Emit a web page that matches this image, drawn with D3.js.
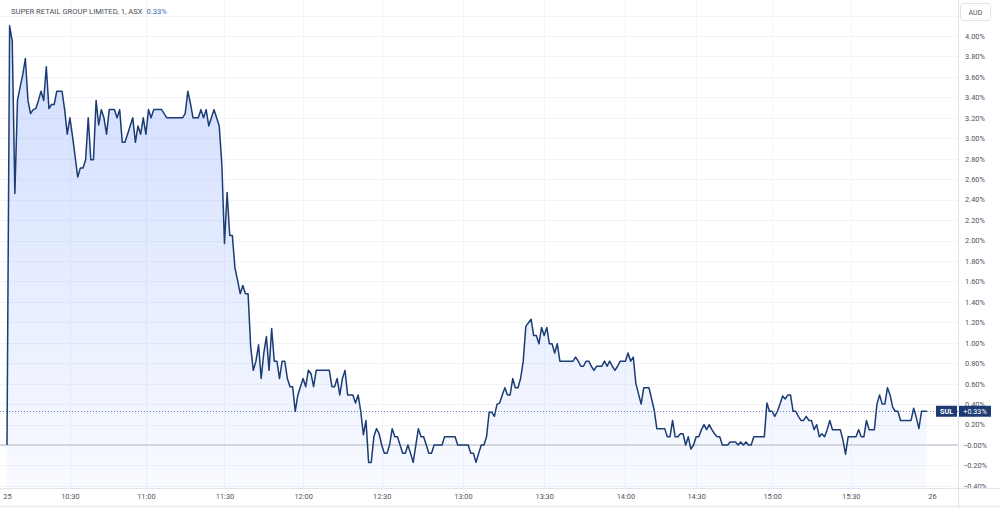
<!DOCTYPE html>
<html>
<head>
<meta charset="utf-8">
<script src="https://cdn.jsdelivr.net/npm/d3@7"></script>
<style>
	html, body { margin: 0; padding: 0; background: #fff; }
	svg { display: block; font-family: Roboto, "Liberation Sans", sans-serif; }
</style>
</head>
<body>
<div id="chart"></div>
<script>

// bar number within the session (1 minute bars) and % change vs previous close
var barIdx = [0,1,2,3,4,5,6,7,8,9,10,11,12,13,14,15,16,17,18,19,20,21,22,23,24,25,27,28,29,30,
	31,32,33,34,35,36,37,38,39,40,41,42,43,44,45,46,47,48,49,50,51,52,53,54,55,56,57,58,59,61,
	67,68,69,70,71,73,74,75,76,77,78,79,80,81,82,83,84,85,86,87,88,89,90,91,92,93,94,95,96,97,
	98,99,100,101,102,103,104,105,106,107,108,109,110,111,112,113,114,115,116,117,118,123,124,125,126,127,128,129,130,132,
	133,134,135,136,137,138,139,140,141,142,143,144,145,146,147,148,149,150,151,152,153,154,155,157,158,159,160,161,162,163,
	166,167,171,172,176,177,178,179,180,181,182,183,184,185,186,187,188,189,190,191,192,193,194,195,196,197,198,200,201,202,
	203,204,205,206,207,208,209,210,211,216,217,218,219,220,221,222,223,224,225,227,228,229,230,231,232,233,234,236,237,238,
	239,240,242,243,245,247,248,251,252,253,254,255,256,257,258,259,260,261,262,263,264,265,266,267,268,269,270,271,272,273,
	275,276,278,279,280,281,282,283,284,285,289,290,291,292,293,294,295,296,297,298,299,300,301,302,303,304,305,306,307,308,
	309,310,311,312,313,314,315,318,319,320,321,324,325,326,327,328,329,331,332,333,334,335,336,337,338,339,340,341,345,346,
	347,348,349,351];

var pctChange = [0.00,4.10,3.95,2.46,3.37,3.50,3.62,3.78,3.37,3.24,3.28,3.29,3.37,3.46,3.37,3.70,3.29,3.33,3.33,3.46,3.46,3.46,3.28,3.04,3.20,3.02,2.62,2.71,2.71,2.79,
	3.20,2.79,2.79,3.37,3.13,3.28,3.20,3.04,3.28,3.28,3.28,3.20,3.28,2.96,2.96,3.04,3.12,3.20,2.96,3.12,3.04,3.20,3.04,3.28,3.20,3.28,3.28,3.28,3.28,3.20,
	3.20,3.24,3.46,3.34,3.20,3.20,3.28,3.20,3.28,3.12,3.20,3.28,3.20,3.12,2.74,1.97,2.47,2.05,2.05,1.73,1.61,1.48,1.56,1.48,1.48,0.96,0.73,0.82,0.98,0.65,
	0.90,1.06,0.73,1.14,0.82,0.82,0.65,0.82,0.82,0.65,0.57,0.57,0.33,0.49,0.57,0.65,0.57,0.73,0.70,0.57,0.73,0.73,0.57,0.57,0.65,0.49,0.65,0.73,0.49,0.49,
	0.41,0.49,0.33,0.10,0.24,-0.17,-0.17,0.08,0.16,0.11,0.00,-0.08,-0.08,0.00,0.16,0.08,0.08,0.00,-0.08,-0.08,0.00,-0.08,-0.17,0.16,0.08,0.08,0.00,-0.08,-0.08,0.00,
	0.00,0.08,0.08,0.00,0.00,-0.08,-0.08,-0.17,-0.08,0.00,0.00,0.08,0.32,0.32,0.28,0.40,0.41,0.49,0.56,0.49,0.49,0.65,0.56,0.56,0.65,0.82,1.16,1.23,1.07,1.07,
	0.99,1.15,1.07,1.15,0.99,0.99,0.90,0.99,0.82,0.82,0.86,0.82,0.77,0.77,0.82,0.82,0.77,0.73,0.77,0.77,0.82,0.77,0.82,0.77,0.73,0.77,0.82,0.82,0.90,0.82,
	0.86,0.60,0.40,0.56,0.56,0.34,0.16,0.16,0.08,0.08,0.24,0.08,0.08,0.11,0.11,0.00,0.08,-0.04,0.00,0.08,0.08,0.15,0.20,0.15,0.20,0.15,0.11,0.08,0.08,0.00,
	0.00,0.03,0.03,0.00,0.03,0.00,0.03,0.00,0.00,0.08,0.08,0.41,0.33,0.33,0.28,0.33,0.40,0.48,0.45,0.49,0.49,0.33,0.33,0.28,0.24,0.24,0.28,0.24,0.24,0.15,
	0.20,0.08,0.11,0.08,0.15,0.24,0.15,0.15,0.05,-0.09,0.08,0.08,0.15,0.08,0.08,0.24,0.15,0.15,0.40,0.49,0.40,0.40,0.56,0.49,0.37,0.33,0.33,0.24,0.24,0.36,
	0.27,0.16,0.33,0.33];

// time axis labels and the bar they sit on
var tickBars = [0, 24, 53, 83, 113, 143, 174, 205, 236, 263, 292, 322, 353];
var tickLabels = ["25", "10:30", "11:00", "11:30", "12:00", "12:30", "13:00", "13:30", "14:00", "14:30", "15:00", "15:30", "26"];

// percent scale grid lines / labels
var gridPct = [-0.4, -0.2, 0, 0.2, 0.4, 0.6, 0.8, 1.0, 1.2, 1.4, 1.6, 1.8, 2.0, 2.2, 2.4, 2.6, 2.8, 3.0, 3.2, 3.4, 3.6, 3.8, 4.0, 4.2];
var labelPct = [-0.4, -0.2, 0, 0.2, 0.4, 0.6, 0.8, 1.0, 1.2, 1.4, 1.6, 1.8, 2.0, 2.2, 2.4, 2.6, 2.8, 3.0, 3.2, 3.4, 3.6, 3.8, 4.0];

var symbol = "SUL";
var title = "SUPER RETAIL GROUP LIMITED, 1, ASX";
var currency = "AUD";

var W = 1000, H = 508,
	paneRight = 958, paneBottom = 488;

var data = barIdx.map(function(b, i) { return { bar: b, v: pctChange[i] }; });
var last = data[data.length - 1].v;

var x = d3.scaleLinear().domain([0, 353]).range([7, 932]);
var y = d3.scaleLinear().domain([0, 4]).range([445, 36]);

var pctFmt = function(d) {
	var s = d3.format(".2f")(Math.abs(d)) + "%";
	return (d <= 0 ? "\u2212" : "") + s;
};

var svg = d3.select("#chart").append("svg")
	.attr("width", W)
	.attr("height", H);

var defs = svg.append("defs");

defs.append("clipPath").attr("id", "pane")
	.append("rect").attr("x", 0).attr("y", 0).attr("width", paneRight).attr("height", paneBottom);

var grad = defs.append("linearGradient")
	.attr("id", "areaFill")
	.attr("gradientUnits", "userSpaceOnUse")
	.attr("x1", 0).attr("x2", 0)
	.attr("y1", y(4.1)).attr("y2", paneBottom);
grad.append("stop").attr("offset", "0").attr("stop-color", "rgb(41,98,255)").attr("stop-opacity", 0.22);
grad.append("stop").attr("offset", "1").attr("stop-color", "rgb(41,98,255)").attr("stop-opacity", 0.03);

// grid
var grid = svg.append("g").attr("clip-path", "url(#pane)");
grid.selectAll(".hgrid")
	.data(gridPct)
	.enter().append("line")
	.attr("x1", 0).attr("x2", paneRight)
	.attr("y1", function(d) { return Math.round(y(d)) + 0.5; })
	.attr("y2", function(d) { return Math.round(y(d)) + 0.5; })
	.attr("stroke", "#f2f4f9");
grid.selectAll(".vgrid")
	.data(tickBars.slice(1, -1))
	.enter().append("line")
	.attr("y1", 0).attr("y2", paneBottom)
	.attr("x1", function(d) { return Math.round(x(d)) + 0.5; })
	.attr("x2", function(d) { return Math.round(x(d)) + 0.5; })
	.attr("stroke", "#f2f4f9");

// series
var plot = svg.append("g").attr("clip-path", "url(#pane)");

plot.append("path")
	.datum(data)
	.attr("fill", "url(#areaFill)")
	.attr("d", d3.area()
		.x(function(d) { return x(d.bar); })
		.y0(paneBottom)
		.y1(function(d) { return y(d.v); }));

// previous close (0%) line
plot.append("line")
	.attr("x1", 0).attr("x2", paneRight)
	.attr("y1", y(0)).attr("y2", y(0))
	.attr("stroke", "#c9ccd4")
	.attr("stroke-width", 1.5);

// last price line
plot.append("line")
	.attr("x1", 0).attr("x2", paneRight)
	.attr("y1", Math.round(y(last)) + 0.5).attr("y2", Math.round(y(last)) + 0.5)
	.attr("stroke", "#5f7fb8")
	.attr("stroke-dasharray", "1,2");

plot.append("path")
	.datum(data)
	.attr("fill", "none")
	.attr("stroke", "#1b3c74")
	.attr("stroke-width", 1.5)
	.attr("stroke-linejoin", "round")
	.attr("d", d3.line()
		.x(function(d) { return x(d.bar); })
		.y(function(d) { return y(d.v); }));

// legend / title
var legend = svg.append("text")
	.attr("x", 11).attr("y", 14)
	.attr("font-size", "7.6px");
legend.append("tspan").attr("fill", "#4c4f58").text(title);
legend.append("tspan").attr("fill", "#3d6db5").attr("dx", 4).text(d3.format(".2f")(last) + "%");

// right price axis
var yAxisG = svg.append("g")
	.attr("transform", "translate(" + paneRight + ",0)")
	.call(d3.axisRight(y).tickValues(labelPct).tickSize(0).tickFormat(pctFmt));
yAxisG.select(".domain").remove();
yAxisG.selectAll("text")
	.attr("x", 17)
	.attr("text-anchor", "middle")
	.attr("fill", "#50535e")
	.attr("font-family", "Roboto, sans-serif")
	.attr("font-size", "7.4px");

// bottom time axis panel
svg.append("rect")
	.attr("x", 0).attr("y", paneBottom)
	.attr("width", W).attr("height", H - paneBottom)
	.attr("fill", "#fff");
svg.append("rect")
	.attr("x", 0).attr("y", 505)
	.attr("width", W).attr("height", 3)
	.attr("fill", "#f3f4f6");

var xAxisG = svg.append("g")
	.attr("transform", "translate(0," + paneBottom + ")")
	.call(d3.axisBottom(x).tickValues(tickBars).tickSize(0).tickPadding(6)
		.tickFormat(function(d, i) { return tickLabels[i]; }));
xAxisG.select(".domain").remove();
xAxisG.selectAll("text")
	.attr("fill", "#50535e")
	.attr("font-family", "Roboto, sans-serif")
	.attr("font-size", "7.4px");

// panel borders
svg.append("line")
	.attr("x1", 0).attr("x2", W)
	.attr("y1", paneBottom + 0.5).attr("y2", paneBottom + 0.5)
	.attr("stroke", "#e0e3eb");
svg.append("line")
	.attr("x1", paneRight + 0.5).attr("x2", paneRight + 0.5)
	.attr("y1", 0).attr("y2", H)
	.attr("stroke", "#e0e3eb");

// currency button
svg.append("rect")
	.attr("x", 960.5).attr("y", 3.5)
	.attr("width", 30).attr("height", 17)
	.attr("rx", 3)
	.attr("fill", "#fff")
	.attr("stroke", "#e0e3eb");
svg.append("text")
	.attr("x", 975.5).attr("y", 14.5)
	.attr("text-anchor", "middle")
	.attr("fill", "#50535e")
	.attr("font-size", "7.2px")
	.text(currency);

// last value labels
var ly = y(last);
svg.append("rect")
	.attr("x", 936).attr("y", ly - 5.5)
	.attr("width", 21).attr("height", 11)
	.attr("fill", "#1d3b72");
svg.append("text")
	.attr("x", 946.5).attr("y", ly + 2.6)
	.attr("text-anchor", "middle")
	.attr("fill", "#fff")
	.attr("font-size", "7.2px")
	.attr("font-weight", "bold")
	.text(symbol);
svg.append("rect")
	.attr("x", 959).attr("y", ly - 5.5)
	.attr("width", 32).attr("height", 11)
	.attr("fill", "#1d3b72");
svg.append("text")
	.attr("x", 975).attr("y", ly + 2.6)
	.attr("text-anchor", "middle")
	.attr("fill", "#fff")
	.attr("font-size", "7.2px")
	.text("+" + d3.format(".2f")(last) + "%");

</script>
</body>
</html>
